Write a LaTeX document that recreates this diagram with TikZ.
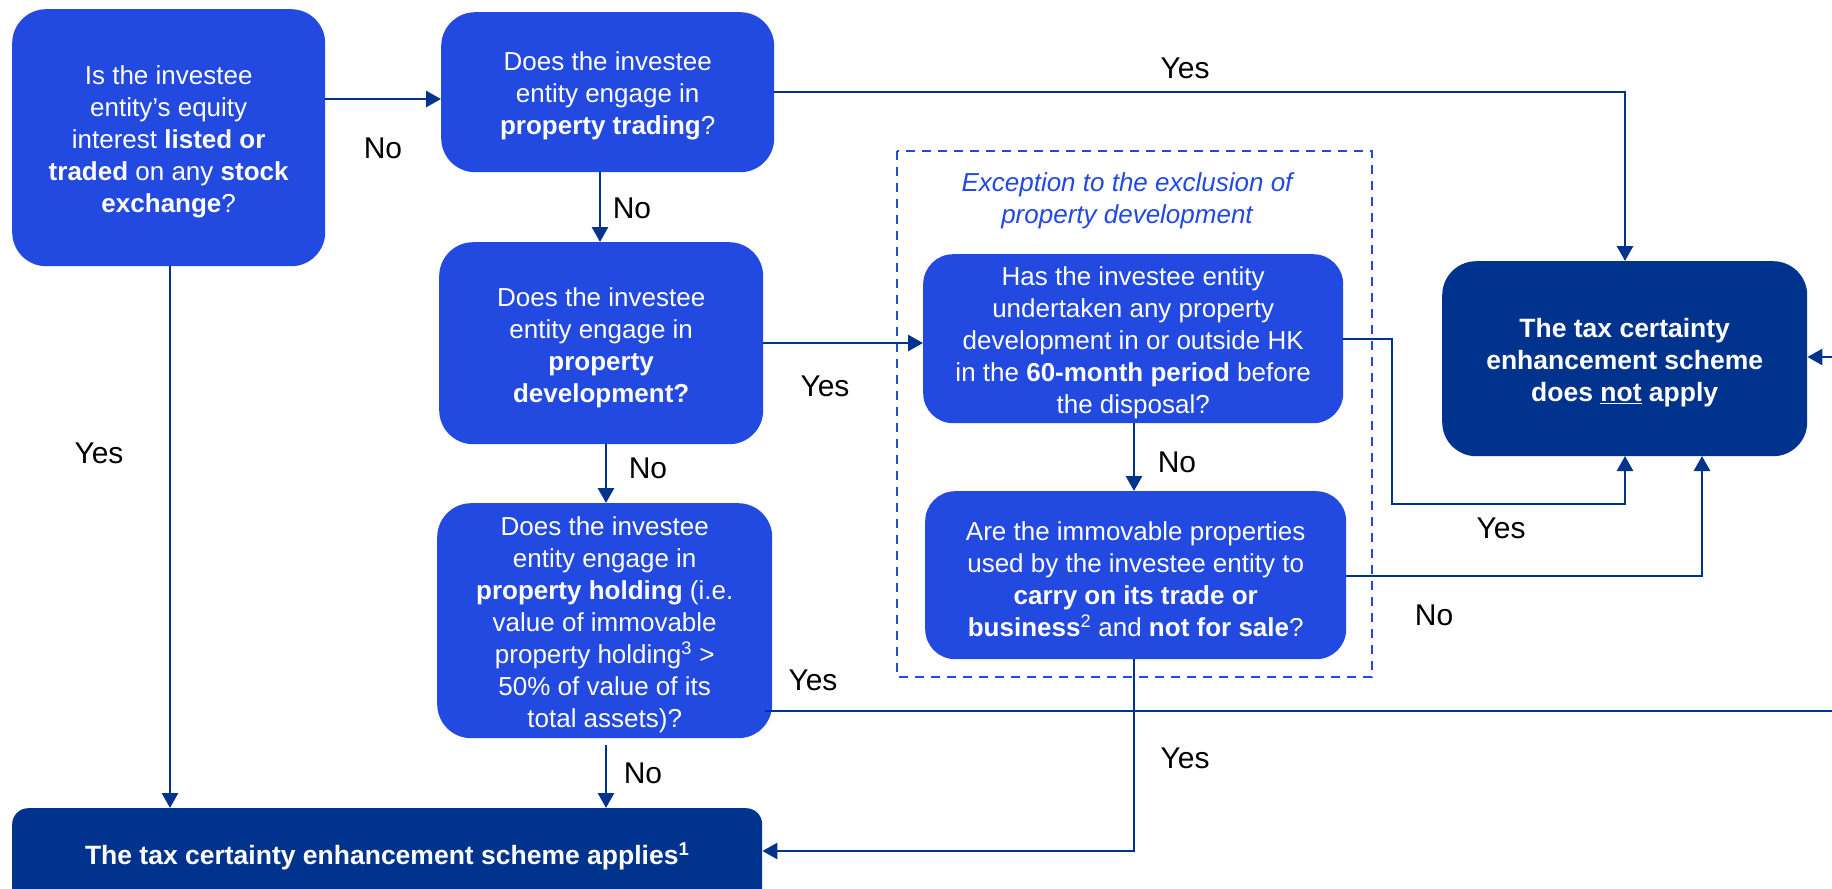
\documentclass[tikz,border=0pt]{standalone}
\usepackage{fontspec}
\setmainfont{Liberation Sans}
\usetikzlibrary{arrows.meta}
\definecolor{lb}{HTML}{2249E0}
\definecolor{db}{HTML}{00338D}
\newcommand{\tstrut}{\rule{0pt}{27pt}}
\begin{document}
\begin{tikzpicture}[x=1pt,y=-1pt,
  qbox/.style={fill=lb, rounded corners=34pt, text=white, align=center,
    anchor=north west, inner sep=0pt, font=\fontsize{26}{32}\selectfont},
  endbox/.style={fill=db, rounded corners=34pt, text=white, align=center,
    anchor=north west, inner sep=0pt, font=\bfseries\fontsize{26.5}{32}\selectfont},
  lbl/.style={text=black, inner sep=0pt, font=\fontsize{30}{36}\selectfont},
  conn/.style={draw=db, line width=2.8pt},
  arr/.style={conn, -{Triangle[length=15pt,width=16pt]}},
]
\path[use as bounding box, clip] (0,0) rectangle (1832,889);
\fill[white] (0,0) rectangle (1832,889);

% dashed exception frame
\draw[draw=lb, line width=2.5pt, dash pattern=on 9pt off 7pt] (897,151) rectangle (1372,677);
\node[text=lb, align=center, inner sep=0pt, font=\itshape\fontsize{26}{32}\selectfont] (exc) at (1127,201)
  {Exception to the exclusion of\\ property development};

% decision boxes
\node[qbox, minimum width=313pt, minimum height=257pt] (A) at (12,9)
  {\tstrut Is the investee\\ entity’s equity\\ interest \textbf{listed or}\\ \textbf{traded} on any \textbf{stock}\\ \textbf{exchange}?};
\node[qbox, minimum width=333pt, minimum height=160pt] (B) at (441,12)
  {\tstrut Does the investee\\ entity engage in\\ \textbf{property trading}?};
\node[qbox, minimum width=324pt, minimum height=202pt] (C) at (439,242)
  {\tstrut Does the investee\\ entity engage in\\ \textbf{property}\\ \textbf{development?}};
\node[qbox, minimum width=335pt, minimum height=235pt] (D) at (437,503)
  {\tstrut Does the investee\\ entity engage in\\ \textbf{property holding} (i.e.\\ value of immovable\\ property holding\textsuperscript{3} >\\ 50\% of value of its\\ total assets)?};
\node[qbox, rounded corners=30pt, minimum width=420pt, minimum height=169pt] (F) at (923,254)
  {\tstrut Has the investee entity\\ undertaken any property\\ development in or outside HK\\ in the \textbf{60-month period} before\\ the disposal?};
\node[qbox, rounded corners=30pt, minimum width=421pt, minimum height=168pt] (G) at (925,491)
  {\tstrut Are the immovable properties\\ used by the investee entity to\\ \textbf{carry on its trade or}\\ \textbf{business}\textsuperscript{2} and \textbf{not for sale}?};

% outcome boxes
\node[endbox, minimum width=365pt, minimum height=195pt] (H) at (1442,261)
  {\tstrut The tax certainty\\ enhancement scheme\\ does \underline{not} apply};
\node[endbox, rounded corners=16pt, minimum width=750pt, minimum height=96pt] (E) at (12,808)
  {The tax certainty enhancement scheme applies\textsuperscript{1}};

% off-picture ends
\coordinate (rH) at (1832,357);
\coordinate (rD) at (1832,711);

% connectors
\draw[arr] (A.east |- 0,99) -- (B.west |- 0,99);
\draw[arr] (170,266) -- (170,808);
\draw[arr] (B.east |- 0,92) -- (1625,92) -- (1625,261);
\draw[arr] (600,172) -- (600,242);
\draw[arr] (C.east |- 0,343) -- (F.west |- 0,343);
\draw[arr] (606,444) -- (606,503);
\draw[arr] (606,745) -- (606,808);
\draw[conn] (765,711) -- (rD);
\draw[arr] (1134,423) -- (1134,491);
\draw[arr] (F.east |- 0,339) -- (1392,339) -- (1392,504) -- (1625,504) -- (1625,456);
\draw[arr] (G.east |- 0,576) -- (1702,576) -- (1702,456);
\draw[arr] (1134,659) -- (1134,851) -- (E.east |- 0,851);
\draw[arr] (rH) -- (H.east |- rH);

% labels
\node[lbl] (l1) at (383,148) {No};
\node[lbl] (l2) at (1185,68) {Yes};
\node[lbl] (l3) at (632,208) {No};
\node[lbl] (l4) at (825,386) {Yes};
\node[lbl] (l5) at (648,468) {No};
\node[lbl] (l6) at (99,453) {Yes};
\node[lbl] (l7) at (813,680) {Yes};
\node[lbl] (l8) at (643,773) {No};
\node[lbl] (l9) at (1177,462) {No};
\node[lbl] (l10) at (1501,528) {Yes};
\node[lbl] (l11) at (1434,615) {No};
\node[lbl] (l12) at (1185,758) {Yes};
\end{tikzpicture}
\end{document}
